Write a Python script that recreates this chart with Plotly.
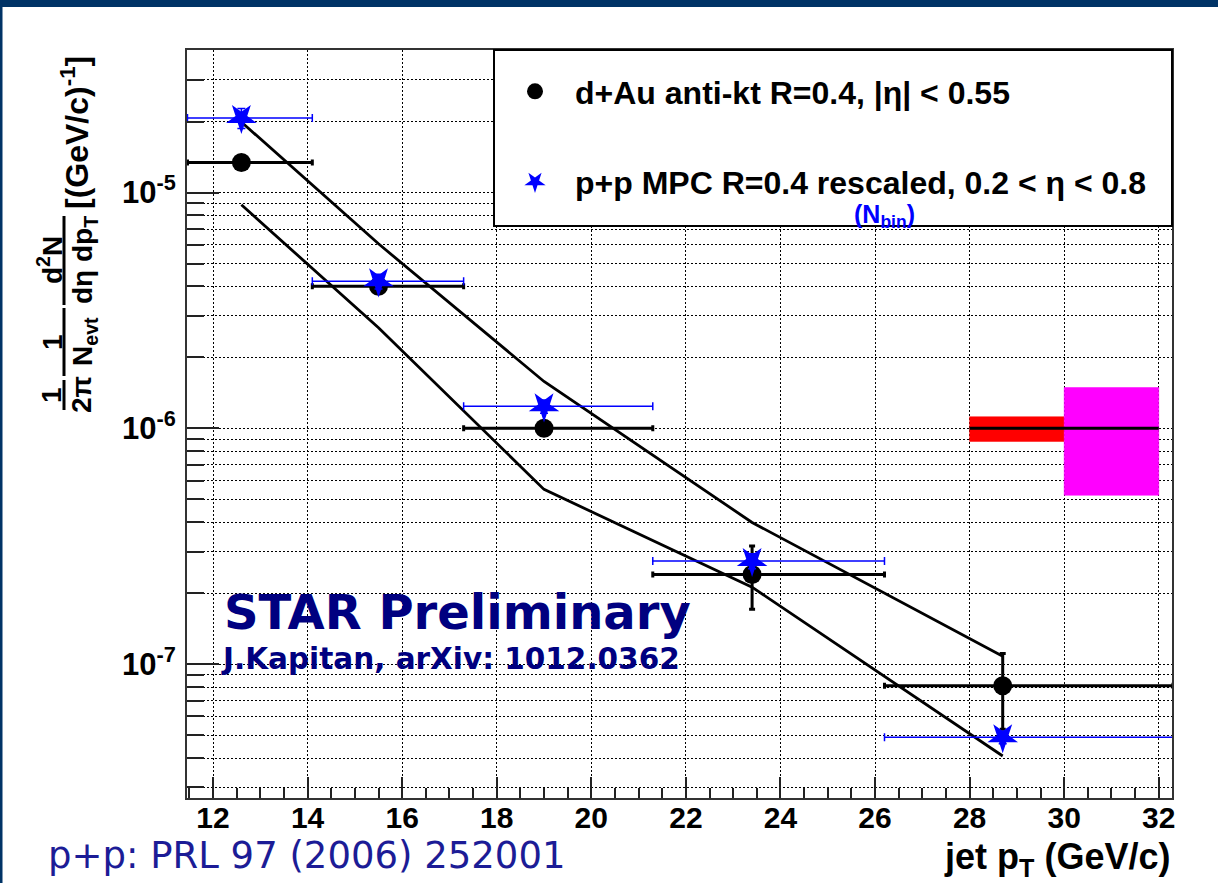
import plotly.graph_objects as go

# ---- data ---------------------------------------------------------------
# jet pT bin centres and bin edges (GeV/c)
pt = [12.6, 15.5, 19.0, 23.4, 28.7]
bin_lo = [11.46, 14.1, 17.3, 21.3, 26.2]
bin_hi = [14.1, 17.3, 21.3, 26.2, 32.3]

# d+Au anti-kt R=0.4 |eta|<0.55 yield
dau_y = [1.34e-5, 4.0e-6, 1.0e-6, 2.4e-7, 8.1e-8]
dau_err_hi = [0.05e-5, 0.15e-6, 0.04e-6, 0.77e-7, 3.0e-8]
dau_err_lo = [0.05e-5, 0.15e-6, 0.04e-6, 0.69e-7, 2.8e-8]

# p+p MPC R=0.4, rescaled by N_bin
pp_y = [2.07e-5, 4.2e-6, 1.24e-6, 2.74e-7, 4.9e-8]
pp_err = [0.2e-5, 0.3e-6, 0.08e-6, 0.2e-7, 0.3e-8]

# systematic band on the p+p reference (upper / lower edge)
band_upper = [1.99e-5, 6.06e-6, 1.58e-6, 3.99e-7, 1.08e-7]
band_lower = [8.87e-6, 2.67e-6, 5.51e-7, 2.12e-7, 4.08e-8]

# normalisation uncertainties drawn around 1e-6
norm_ref = 1.0e-6
norm_dau_x = [28.0, 30.0]
norm_dau_y = [8.8e-7, 1.12e-6]
norm_pp_x = [30.0, 32.0]
norm_pp_y = [5.2e-7, 1.49e-6]

x_ticks = [12, 14, 16, 18, 20, 22, 24, 26, 28, 30, 32]
y_ticks = [1e-7, 1e-6, 1e-5]
y_ticktext = ["10<sup>-7</sup>", "10<sup>-6</sup>", "10<sup>-5</sup>"]

# ---- geometry helpers (pixel -> paper) ---------------------------------
FIG_W, FIG_H = 1218, 883
L, T, W, H = 187, 50, 985, 748


def px(xp):
    return (xp - L) / W


def py(yp):
    return (T + H - yp) / H


ROOT_FONT = "Liberation Sans, Arial, Helvetica, sans-serif"
BLACK = "#000000"
BLUE = "#0000ff"
NAVY = "#000080"

fig = go.Figure()

# systematic band edges
for band in (band_upper, band_lower):
    fig.add_trace(go.Scatter(
        x=pt, y=band, mode="lines",
        line=dict(color=BLACK, width=2.8),
        showlegend=False, hoverinfo="skip"))

# normalisation boxes
fig.add_trace(go.Scatter(
    x=[norm_dau_x[0], norm_dau_x[1], norm_dau_x[1], norm_dau_x[0], norm_dau_x[0]],
    y=[norm_dau_y[0], norm_dau_y[0], norm_dau_y[1], norm_dau_y[1], norm_dau_y[0]],
    mode="lines", fill="toself", fillcolor="#ff0000",
    line=dict(color="#ff0000", width=0.5),
    showlegend=False, hoverinfo="skip"))
fig.add_trace(go.Scatter(
    x=[norm_pp_x[0], norm_pp_x[1], norm_pp_x[1], norm_pp_x[0], norm_pp_x[0]],
    y=[norm_pp_y[0], norm_pp_y[0], norm_pp_y[1], norm_pp_y[1], norm_pp_y[0]],
    mode="lines", fill="toself", fillcolor="#ff00ff",
    line=dict(color="#ff00ff", width=0.5),
    showlegend=False, hoverinfo="skip"))
fig.add_trace(go.Scatter(
    x=[norm_dau_x[0], norm_pp_x[1]], y=[norm_ref, norm_ref], mode="lines",
    line=dict(color=BLACK, width=3),
    showlegend=False, hoverinfo="skip"))

# d+Au points
fig.add_trace(go.Scatter(
    x=pt, y=dau_y, mode="markers",
    name="d+Au anti-kt R=0.4, |η| &lt; 0.55",
    legendgroup="dau",
    marker=dict(symbol="circle", size=19, color=BLACK),
    error_x=dict(type="data", symmetric=False,
                 array=[h - c for h, c in zip(bin_hi, pt)],
                 arrayminus=[c - l for c, l in zip(pt, bin_lo)],
                 color=BLACK, thickness=3, width=3),
    error_y=dict(type="data", symmetric=False,
                 array=dau_err_hi, arrayminus=dau_err_lo,
                 color=BLACK, thickness=3, width=3),
))

# p+p points
fig.add_trace(go.Scatter(
    x=pt, y=pp_y, mode="markers",
    name="p+p MPC R=0.4 rescaled, 0.2 &lt; η &lt; 0.8",
    legendgroup="pp",
    marker=dict(symbol="star", size=23, color=BLUE, angle=180,
                line=dict(width=0)),
    error_x=dict(type="data", symmetric=False,
                 array=[h - c for h, c in zip(bin_hi, pt)],
                 arrayminus=[c - l for c, l in zip(pt, bin_lo)],
                 color=BLUE, thickness=1.5, width=4),
    error_y=dict(type="data", array=pp_err,
                 color=BLUE, thickness=1.5, width=4),
))

grid = dict(gridcolor="#000000", gridwidth=1, griddash="2px,2px")

fig.update_xaxes(
    range=[11.45, 32.28], tickmode="array", tickvals=x_ticks,
    ticks="inside", ticklen=21, tickwidth=2, tickcolor="#222222",
    showline=True, linewidth=2, linecolor="#333333", mirror=True,
    showgrid=True, zeroline=False, **grid,
    minor=dict(dtick=0.5, ticks="inside", ticklen=10, tickwidth=1.5,
               tickcolor="#222222", showgrid=False),
    tickfont=dict(family=ROOT_FONT, size=30, color=BLACK, weight="bold"),
    ticklabelstandoff=-8,
)
fig.update_yaxes(
    type="log", range=[-7.5675, -4.3957],
    tickmode="array", tickvals=y_ticks, ticktext=y_ticktext,
    ticks="inside", ticklen=32, tickwidth=2, tickcolor="#222222",
    showline=True, linewidth=2, linecolor="#333333", mirror=True,
    showgrid=True, zeroline=False, **grid,
    minor=dict(tickvals=[k * 10.0 ** e for e in range(-8, -3) for k in range(2, 10)],
               ticks="inside", ticklen=17, tickwidth=1.5, tickcolor="#222222",
               showgrid=True, **grid),
    tickfont=dict(family=ROOT_FONT, size=31, color=BLACK, weight="bold"),
    ticklabelstandoff=3,
)

shapes = [
    # frame strips of the slide
    dict(type="rect", xref="paper", yref="paper",
         x0=px(0), x1=px(FIG_W), y0=py(7), y1=py(0),
         fillcolor="#003366", line=dict(width=0), layer="above"),
    dict(type="rect", xref="paper", yref="paper",
         x0=px(0), x1=px(2.5), y0=py(FIG_H), y1=py(0),
         fillcolor="#003366", line=dict(width=0), layer="above"),
    # legend box
    dict(type="rect", xref="paper", yref="paper",
         x0=px(494), x1=px(1172), y0=py(226), y1=py(50),
         fillcolor="white", line=dict(color=BLACK, width=2), layer="above"),
]

# y-axis title: 1/2pi * 1/N_evt * d2N/(deta dpT) [(GeV/c)^-1]
ytitle_parts = [
    ("1", 52, 395, 28),
    ("2π", 82, 395, 28),
    ("1", 52, 342, 28),
    ("N<sub>evt</sub>", 84, 342, 28),
    ("d<sup>2</sup>N", 50, 260, 28),
    ("dη dp<sub>T</sub>", 84, 260, 28),
    ("[(GeV/c)<sup>-1</sup>]", 75, 133, 32),
]
frac_bars = [(380, 410), (308, 376), (216, 305)]
for y0, y1 in frac_bars:
    shapes.append(dict(type="line", xref="paper", yref="paper",
                       x0=px(64), x1=px(64), y0=py(y1), y1=py(y0),
                       line=dict(color=BLACK, width=3)))

annotations = []
for text, xp, yp, size in ytitle_parts:
    annotations.append(dict(
        text=text, x=px(xp), y=py(yp), xref="paper", yref="paper",
        xanchor="center", yanchor="middle", textangle=-90, showarrow=False,
        font=dict(family=ROOT_FONT, size=size, color=BLACK, weight="bold")))

annotations += [
    dict(text="jet p<sub>T</sub> (GeV/c)", x=px(1172), y=py(859),
         xref="paper", yref="paper", xanchor="right", yanchor="middle",
         showarrow=False,
         font=dict(family=ROOT_FONT, size=36, color=BLACK, weight="bold")),
    dict(text="(N<sub>bin</sub>)", x=px(884), y=py(216),
         xref="paper", yref="paper", xanchor="center", yanchor="middle",
         showarrow=False,
         font=dict(family=ROOT_FONT, size=25, color=BLUE, weight="bold")),
    dict(text="STAR Preliminary", x=px(222), y=py(612),
         xref="paper", yref="paper", xanchor="left", yanchor="middle",
         showarrow=False,
         font=dict(family="DejaVu Sans", size=48, color=NAVY, weight="bold")),
    dict(text="J.Kapitan, arXiv: 1012.0362", x=px(219), y=py(659),
         xref="paper", yref="paper", xanchor="left", yanchor="middle",
         showarrow=False,
         font=dict(family="DejaVu Sans", size=29.5, color=NAVY, weight="bold")),
    dict(text="p+p: PRL 97 (2006) 252001", x=px(46), y=py(855),
         xref="paper", yref="paper", xanchor="left", yanchor="middle",
         showarrow=False,
         font=dict(family="DejaVu Sans", size=37, color="#1c1c96")),
]

fig.update_layout(
    width=FIG_W, height=FIG_H,
    margin=dict(l=L, r=FIG_W - L - W, t=T, b=FIG_H - T - H, pad=0),
    paper_bgcolor="white", plot_bgcolor="white",
    shapes=shapes, annotations=annotations,
    showlegend=True,
    legend=dict(
        x=px(495), y=py(64), xanchor="left", yanchor="top",
        bgcolor="rgba(0,0,0,0)", borderwidth=0,
        traceorder="grouped", tracegroupgap=46, itemwidth=70,
        font=dict(family=ROOT_FONT, size=32, color=BLACK, weight="bold"),
    ),
)

fig.write_html("out.html")
